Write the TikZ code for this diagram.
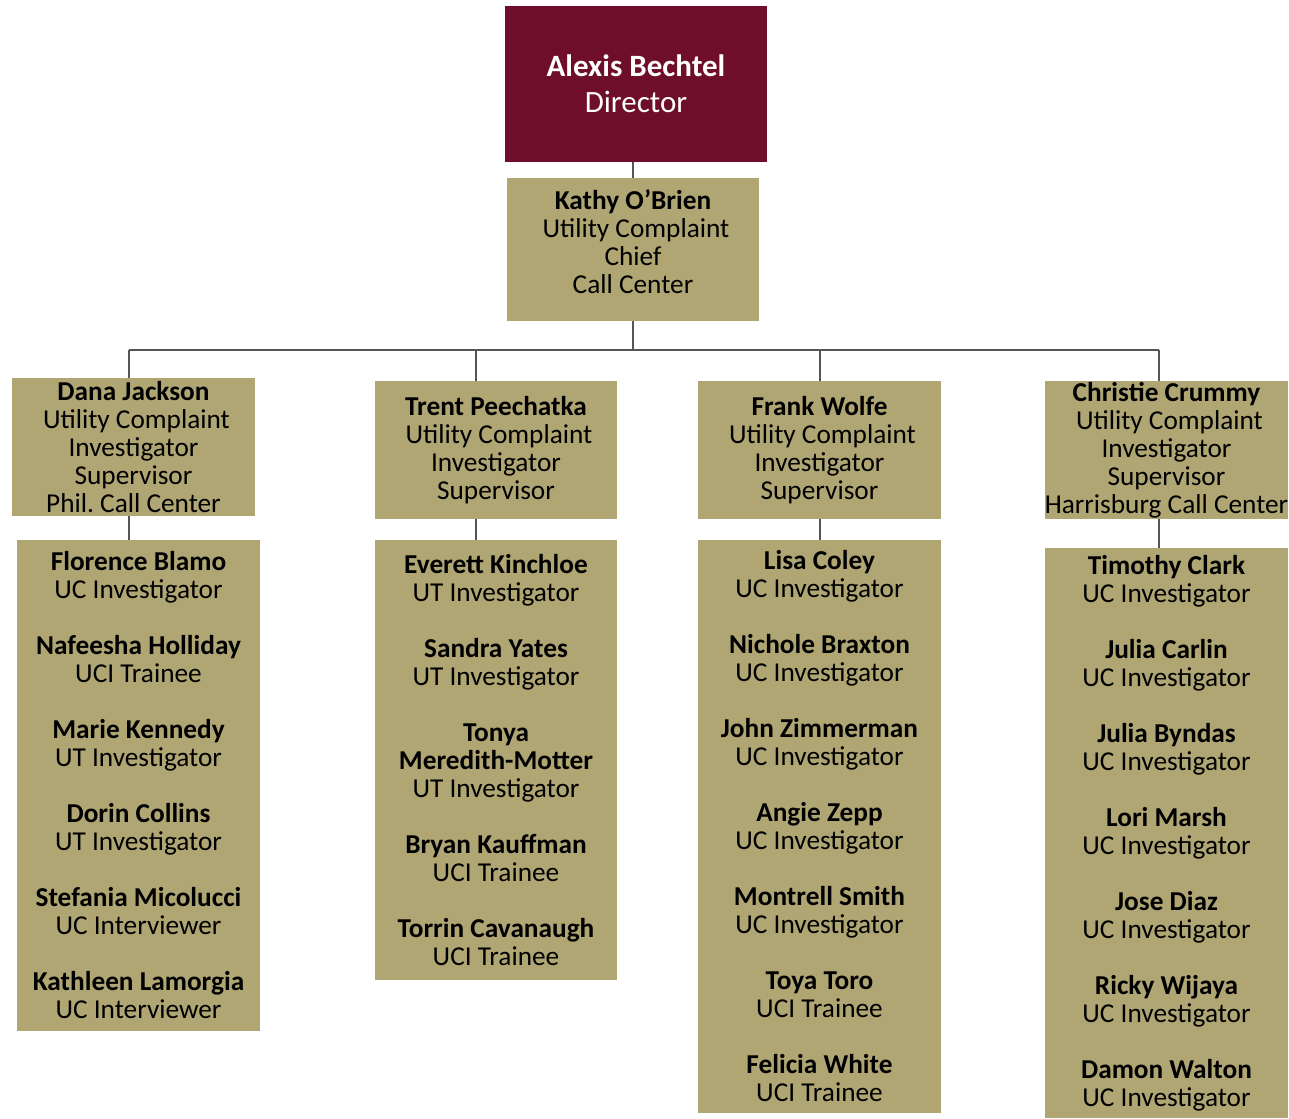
\documentclass[tikz,border=0pt]{standalone}
\usepackage{fontspec}
\setmainfont{Carlito}
\frenchspacing
\definecolor{maroon}{HTML}{6E0E2B}
\definecolor{tan}{HTML}{B0A673}
\definecolor{conn}{HTML}{555555}
\begin{document}
\begin{tikzpicture}[x=1pt,y=-1pt,
  box/.style={fill=tan,draw=none,inner sep=0pt,align=center,text=black,
    font=\fontsize{27.3}{28}\selectfont},
  topbox/.style={fill=maroon,draw=none,inner sep=0pt,align=center,text=white,
    font=\fontsize{31}{36}\selectfont},
  link/.style={draw=conn,line width=1.2pt}]
\useasboundingbox (0,0) rectangle (1289,1118);
\fill[white] (0,0) rectangle (1289,1118);

\node[topbox,minimum width=262pt,minimum height=156pt] (dir) at (636,84)
  {\textbf{Alexis Bechtel}\\Director};
\node[box,minimum width=252pt,minimum height=143pt] (kathy) at (633,249.5)
  {\textbf{Kathy O’Brien}\\\hspace*{6pt}Utility Complaint\\Chief\\Call Center\\[-12pt]\mbox{}};

\node[box,minimum width=243pt,minimum height=138pt] (dana) at (133.5,447)
  {\textbf{Dana Jackson}\\\hspace*{6pt}Utility Complaint\\Investigator\\Supervisor\\Phil. Call Center};
\node[box,minimum width=242pt,minimum height=138pt] (trent) at (496,450)
  {\textbf{Trent Peechatka}\\\hspace*{6pt}Utility Complaint\\Investigator\\Supervisor};
\node[box,minimum width=243pt,minimum height=138pt] (frank) at (819.5,450)
  {\textbf{Frank Wolfe}\\\hspace*{6pt}Utility Complaint\\Investigator\\Supervisor};
\node[box,minimum width=243pt,minimum height=138pt] (christie) at (1166.5,450)
  {\textbf{Christie Crummy}\\\hspace*{6pt}Utility Complaint\\Investigator\\Supervisor\\Harrisburg Call Center};

\node[box,minimum width=243pt,minimum height=491pt] (col1) at (138.5,785.5)
  {\textbf{Florence Blamo}\\UC Investigator\\[28pt]
   \textbf{Nafeesha Holliday}\\UCI Trainee\\[28pt]
   \textbf{Marie Kennedy}\\UT Investigator\\[28pt]
   \textbf{Dorin Collins}\\UT Investigator\\[28pt]
   \textbf{Stefania Micolucci}\\UC Interviewer\\[28pt]
   \textbf{Kathleen Lamorgia}\\UC Interviewer};
\node[box,minimum width=242pt,minimum height=440pt] (col2) at (496,760)
  {\textbf{Everett Kinchloe}\\UT Investigator\\[28pt]
   \textbf{Sandra Yates}\\UT Investigator\\[28pt]
   \textbf{Tonya}\\\textbf{Meredith-Motter}\\UT Investigator\\[28pt]
   \textbf{Bryan Kauffman}\\UCI Trainee\\[28pt]
   \textbf{Torrin Cavanaugh}\\UCI Trainee};
\node[box,minimum width=243pt,minimum height=573pt] (col3) at (819.5,826.5)
  {\textbf{Lisa Coley}\\UC Investigator\\[28pt]
   \textbf{Nichole Braxton}\\UC Investigator\\[28pt]
   \textbf{John Zimmerman}\\UC Investigator\\[28pt]
   \textbf{Angie Zepp}\\UC Investigator\\[28pt]
   \textbf{Montrell Smith}\\UC Investigator\\[28pt]
   \textbf{Toya Toro}\\UCI Trainee\\[28pt]
   \textbf{Felicia White}\\UCI Trainee};
\node[box,minimum width=243pt,minimum height=570pt] (col4) at (1166.5,833)
  {\textbf{Timothy Clark}\\UC Investigator\\[28pt]
   \textbf{Julia Carlin}\\UC Investigator\\[28pt]
   \textbf{Julia Byndas}\\UC Investigator\\[28pt]
   \textbf{Lori Marsh}\\UC Investigator\\[28pt]
   \textbf{Jose Diaz}\\UC Investigator\\[28pt]
   \textbf{Ricky Wijaya}\\UC Investigator\\[28pt]
   \textbf{Damon Walton}\\UC Investigator};

\coordinate (b0) at (633,350);
\coordinate (b1) at (129,350);
\coordinate (b2) at (476,350);
\coordinate (b3) at (820,350);
\coordinate (b4) at (1159,350);

\draw[link] (kathy.north -| b0) -- (dir.south -| b0);
\draw[link] (kathy.south -| b0) -- (b0);
\draw[link] (b1) -- (b4);
\draw[link] (b1) -- (b1 |- dana.north);
\draw[link] (b2) -- (b2 |- trent.north);
\draw[link] (b3) -- (b3 |- frank.north);
\draw[link] (b4) -- (b4 |- christie.north);
\draw[link] (b1 |- dana.south) -- (b1 |- col1.north);
\draw[link] (b2 |- trent.south) -- (b2 |- col2.north);
\draw[link] (b3 |- frank.south) -- (b3 |- col3.north);
\draw[link] (b4 |- christie.south) -- (b4 |- col4.north);
\end{tikzpicture}
\end{document}
